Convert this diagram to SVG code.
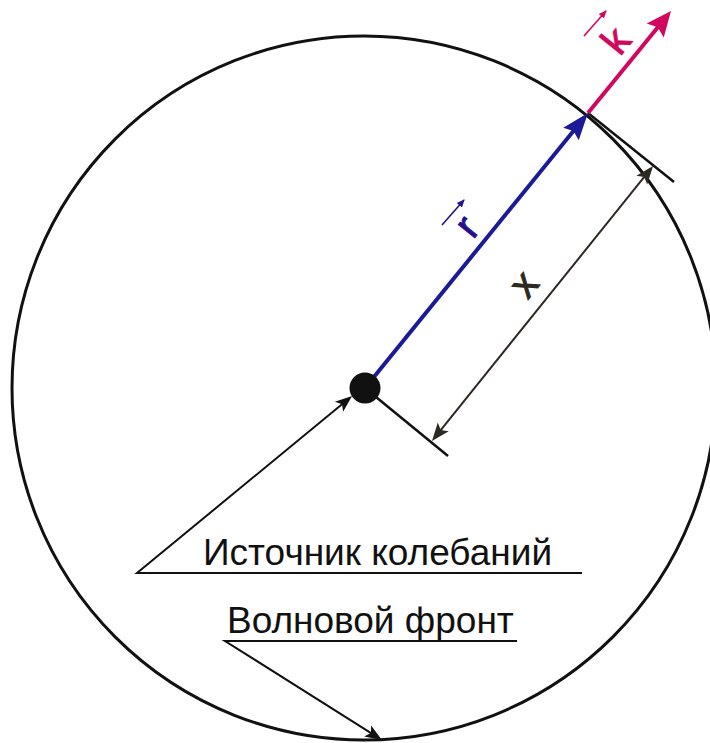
<svg xmlns="http://www.w3.org/2000/svg" width="710" height="743" viewBox="0 0 710 743">
<defs>
<style>
.lbl{font-family:"Liberation Sans",Arial,sans-serif;font-size:37px;fill:#111}
.sym{font-family:"Liberation Sans",Arial,sans-serif;font-size:40px;stroke-width:1}
.lead{stroke:#111;stroke-width:2;fill:none}
</style>
<marker id="aBlue" viewBox="-30 -12 32 24" refX="-6" refY="0" markerWidth="32" markerHeight="24" markerUnits="userSpaceOnUse" orient="auto">
<path d="M0,0 L-27,-10 L-23,0 L-27,10 Z" fill="#1b1a98"/>
</marker>
<marker id="aPink" viewBox="-30 -12 32 24" refX="-6" refY="0" markerWidth="32" markerHeight="24" markerUnits="userSpaceOnUse" orient="auto">
<path d="M0,0 L-25,-11 L-21,0 L-25,11 Z" fill="#d1085e"/>
</marker>
<marker id="aDim" viewBox="-22 -8 24 16" refX="-5" refY="0" markerWidth="24" markerHeight="16" markerUnits="userSpaceOnUse" orient="auto-start-reverse">
<path d="M0,0 L-18,-7 L-14,0 L-18,7 Z" fill="#2e2822"/>
</marker>
<marker id="aLead" viewBox="-20 -8 22 16" refX="-4" refY="0" markerWidth="22" markerHeight="16" markerUnits="userSpaceOnUse" orient="auto">
<path d="M0,0 L-17,-6.5 L-13,0 L-17,6.5 Z" fill="#111"/>
</marker>
<marker id="aSmallB" viewBox="-8 -4 9 8" refX="-1" refY="0" markerWidth="9" markerHeight="8" markerUnits="userSpaceOnUse" orient="auto">
<path d="M0,0 L-8,-3.5 L-8,3.5 Z" fill="#26108f"/>
</marker>
<marker id="aSmallP" viewBox="-8 -4 9 8" refX="-1" refY="0" markerWidth="9" markerHeight="8" markerUnits="userSpaceOnUse" orient="auto">
<path d="M0,0 L-8,-3.5 L-8,3.5 Z" fill="#d1085e"/>
</marker>
</defs>
<rect width="710" height="743" fill="#fff"/>

<g id="wavefront">
<circle cx="364" cy="388" r="352" fill="none" stroke="#111" stroke-width="3"/>
</g>

<g id="connectors">
<line x1="588" y1="113" x2="674" y2="182" stroke="#111" stroke-width="2.5"/>
<line x1="365" y1="388" x2="448" y2="456" stroke="#111" stroke-width="2.5"/>
<line x1="365" y1="388" x2="584.2" y2="117.7" stroke="#1b1a98" stroke-width="4" marker-end="url(#aBlue)"/>
<line x1="588" y1="113" x2="667.2" y2="15.7" stroke="#d1085e" stroke-width="4" marker-end="url(#aPink)"/>
<line x1="435.1" y1="437.1" x2="649.9" y2="169.9" stroke="#2e2822" stroke-width="2" marker-start="url(#aDim)" marker-end="url(#aDim)"/>
<polyline class="lead" points="582,573 137,573 349,398.5" marker-end="url(#aLead)"/>
<polyline class="lead" points="517,641 225,641 378.6,737.9" marker-end="url(#aLead)"/>
</g>

<g id="source">
<circle cx="365" cy="388" r="15.5" fill="#111"/>
</g>

<g id="label-r">
<line x1="442" y1="225" x2="464" y2="200" stroke="#26108f" stroke-width="1.6" marker-end="url(#aSmallB)"/>
<text class="sym" fill="#26108f" stroke="#26108f" transform="translate(473,240) rotate(-51)">r</text>
</g>

<g id="label-k">
<line x1="584" y1="36" x2="606" y2="11" stroke="#d1085e" stroke-width="1.6" marker-end="url(#aSmallP)"/>
<text class="sym" fill="#d1085e" stroke="#d1085e" transform="translate(620,57) rotate(-51)">k</text>
</g>

<g id="label-x">
<text class="sym" fill="#2e2822" stroke="#2e2822" transform="translate(527.8,300.3) rotate(-51)">x</text>
</g>

<g id="label-source">
<text class="lbl" x="203" y="565">Источник колебаний</text>
</g>

<g id="label-front">
<text class="lbl" x="227" y="633">Волновой фронт</text>
</g>
</svg>
